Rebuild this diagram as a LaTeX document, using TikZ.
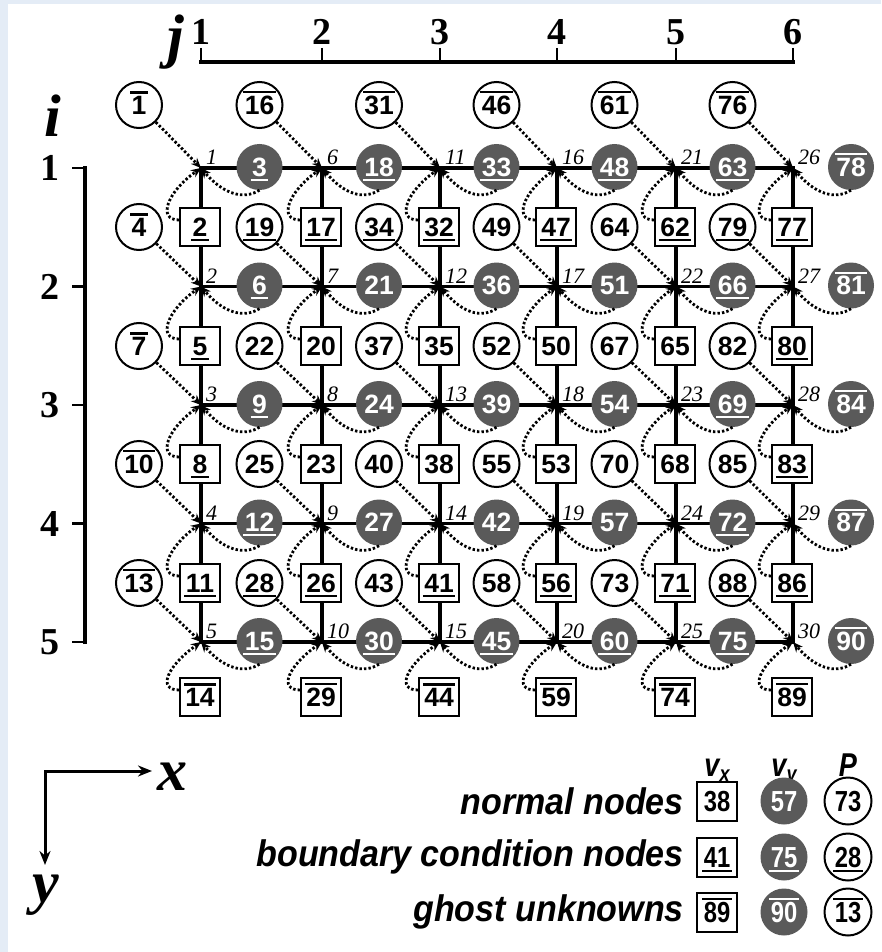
\documentclass[tikz,border=0pt]{standalone}
\usepackage{fontspec}
\setmainfont{Liberation Serif}
\newfontfamily\nsans{Liberation Sans}
\newfontfamily\nsansN[FakeStretch=0.82]{Liberation Sans}
\newfontfamily\nsansL[FakeStretch=0.92]{Liberation Sans}
\usetikzlibrary{arrows.meta}
\definecolor{bgblue}{RGB}{228,236,246}
\definecolor{vygray}{RGB}{90,90,90}
\newcommand\ulx[1]{\setbox0\hbox{#1}\rlap{\hskip-1.5pt\rule[-4.5pt]{\dimexpr\wd0+3pt\relax}{2.2pt}}\box0}
\newcommand\olx[1]{\setbox0\hbox{#1}\rlap{\hskip-1.5pt\rule[\dimexpr\ht0+2.5pt\relax]{\dimexpr\wd0+3pt\relax}{2.2pt}}\box0}
\newcommand\lab[1]{\ifcsname mkU#1\endcsname\ulx{#1}\else\ifcsname mkO#1\endcsname\olx{#1}\else#1\fi\fi}
\foreach \n in {2,5,8,11,17,26,32,41,47,56,62,71,77,80,83,86,3,6,9,12,15,18,30,33,45,48,60,63,66,69,72,75,19,28,34,79,88}{\expandafter\gdef\csname mkU\n\endcsname{}}
\foreach \n in {14,29,44,59,74,89,78,81,84,87,90,1,16,31,46,61,76,4,7,10,13}{\expandafter\gdef\csname mkO\n\endcsname{}}
\tikzset{
  every node/.style={inner sep=0pt},
  numfont/.style={font=\nsans\bfseries\fontsize{26.5}{26.5}\selectfont},
  pnode/.style={circle, draw, line width=2pt, fill=white, minimum size=46pt, numfont, text height=18.5pt, text depth=0pt},
  vynode/.style={circle, fill=vygray, text=white, minimum size=46pt, numfont, text height=18.5pt, text depth=0pt},
  vxnode/.style={rectangle, draw, line width=2pt, fill=white, minimum width=40pt, minimum height=38pt, numfont, text height=18.5pt, text depth=0pt},
  gridline/.style={line width=3.2pt, line cap=rect},
  dotarrow/.style={line width=2.8pt, dash pattern=on 2.4pt off 2.1pt, -{Stealth[length=10pt,width=8.5pt]}},
  glab/.style={font=\itshape\fontsize{22}{22}\selectfont},
  axnum/.style={font=\bfseries\fontsize{38}{38}\selectfont},
  bigital/.style={font=\bfseries\itshape\fontsize{60}{60}\selectfont},
  axmain/.style={line width=4.5pt, line cap=rect},
  axtick/.style={line width=2.5pt},
  legnum/.style={font=\nsansN\bfseries\fontsize{29}{29}\selectfont, text height=21pt, text depth=0pt},
  lvx/.style={rectangle, draw, line width=2pt, fill=white, minimum width=40pt, minimum height=39pt, legnum},
  lvy/.style={circle, fill=vygray, text=white, minimum size=47pt, legnum},
  lp/.style={circle, draw, line width=2pt, fill=white, minimum size=47pt, legnum},
  legtext/.style={font=\nsansL\bfseries\itshape\fontsize{37}{37}\selectfont},
  leghead/.style={font=\nsansN\bfseries\itshape\fontsize{33}{33}\selectfont},
  axarrow/.style={line width=3pt, {Stealth[length=14pt,width=11pt]}-{Stealth[length=14pt,width=11pt]}}
}
\begin{document}
\begin{tikzpicture}[x=1pt,y=-1pt]
\useasboundingbox (0,0) rectangle (881,952);
\fill[bgblue] (0,0) rectangle (881,952);
\fill[white] (8,4) rectangle (881,952);
% grid coordinates
\foreach \j/\xj in {1/201,2/322,3/440,4/557,5/676,6/793}{
  \foreach \i/\yi in {1/168,2/286.5,3/405,4/523.5,5/642}{
    \coordinate (g-\i-\j) at (\xj,\yi);
  }
}
% j axis
\foreach \j/\xj in {1/201,2/322,3/440,4/557,5/676,6/793}{
  \coordinate (jt-\j) at (\xj,48);
  \coordinate (jb-\j) at (\xj,62);
  \draw[axtick] (jt-\j) -- (jb-\j);
  \node[axnum] (jn-\j) at (\xj,32) {\j};
}
\draw[axmain] (jb-1) -- (jb-6);
\node[bigital, anchor=base] (jlab) at (176,57) {j};
% i axis
\foreach \i/\yi in {1/168,2/286.5,3/405,4/523.5,5/642}{
  \coordinate (il-\i) at (72,\yi);
  \coordinate (ir-\i) at (85,\yi);
  \draw[axtick] (il-\i) -- (ir-\i);
  \node[axnum] (in-\i) at (50,\yi) {\i};
}
\draw[axmain] (ir-1) -- (ir-5);
\node[bigital, anchor=base] (ilab) at (53,137) {i};
% grid lines
\foreach \i in {1,...,5} \draw[gridline] (g-\i-1) -- (g-\i-6);
\foreach \j in {1,...,6} \draw[gridline] (g-1-\j) -- (g-5-\j);
% unknowns
\foreach \j/\xj/\pxj/\vyxj in {1/201/139/259.5,2/322/259.5/379,3/440/379/496.5,4/557/496.5/614.5,5/676/614.5/732.5,6/793/732.5/851}{
  \foreach \i/\yi/\pyi/\vxyi in {1/168/105/227,2/286.5/227/346,3/405/346/464,4/523.5/464/583,5/642/583/697}{
    \pgfmathtruncatemacro\k{(\j-1)*5+\i}
    \pgfmathtruncatemacro\np{3*\k-2}
    \pgfmathtruncatemacro\nx{3*\k-1}
    \pgfmathtruncatemacro\ny{3*\k}
    \pgfmathsetmacro\vyy{\yi-1}
    \pgfmathsetmacro\vxx{\xj-1}
    \node[pnode] (p-\k) at (\pxj,\pyi) {\lab{\np}};
    \node[vxnode] (vx-\k) at (\vxx,\vxyi) {\lab{\nx}};
    \node[vynode] (vy-\k) at (\vyxj,\vyy) {\lab{\ny}};
    \node[glab, anchor=south west] (gl-\k) at ([xshift=5pt,yshift=3pt]g-\i-\j) {\k};
  }
}
% arrows
\foreach \j in {1,...,6}{
  \foreach \i in {1,...,5}{
    \pgfmathtruncatemacro\k{(\j-1)*5+\i}
    \draw[dotarrow] (p-\k) -- (g-\i-\j);
    \draw[dotarrow] (vy-\k.south) .. controls +(-16,10) and +(22,26) .. (g-\i-\j);
    \draw[dotarrow] ([yshift=7pt]vx-\k.west) .. controls +(-22,0) and +(-34,24) .. (g-\i-\j);
  }
}
% x-y axes
\coordinate (ax0) at (45,771);
\coordinate (axx) at (152,771);
\coordinate (axy) at (45,865);
\draw[axarrow] (axx) -- (ax0) -- (axy);
\node[bigital, anchor=base west] (xlab) at (157,790) {x};
\node[bigital, anchor=base] (ylab) at (46,902) {y};
% legend
\node[leghead, anchor=base] (hvx) at (717,776) {v\raisebox{-5pt}{\fontsize{22}{22}\selectfont x}};
\node[leghead, anchor=base] (hvy) at (784,776) {v\raisebox{-5pt}{\fontsize{22}{22}\selectfont y}};
\node[leghead, anchor=base] (hp) at (848,776) {P};
\node[lvx] (l38) at (717,801) {38};
\node[lvy] (l57) at (784,801) {57};
\node[lp] (l73) at (848,801) {73};
\node[lvx] (l41) at (717,857) {\ulx{41}};
\node[lvy] (l75) at (784,857) {\ulx{75}};
\node[lp] (l28) at (848,857) {\ulx{28}};
\node[lvx] (l89) at (717,912) {\olx{89}};
\node[lvy] (l90) at (784,912) {\olx{90}};
\node[lp] (l13) at (848,912) {\olx{13}};
\node[legtext, anchor=east] (t1) at (684,801) {normal nodes};
\node[legtext, anchor=east] (t2) at (684,857) {boundary condition nodes};
\node[legtext, anchor=east] (t3) at (684,912) {ghost unknowns};
\end{tikzpicture}
\end{document}
